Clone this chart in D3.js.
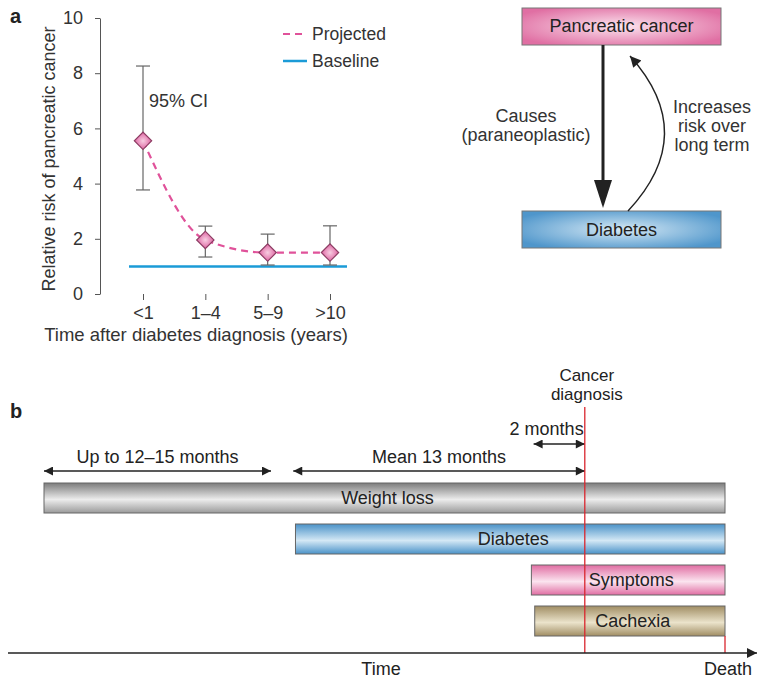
<!DOCTYPE html>
<html lang="en">
<head>
<meta charset="utf-8">
<title>Diabetes and pancreatic cancer</title>
<script type="text/javascript" src="https://cdnjs.cloudflare.com/ajax/libs/d3/7.8.5/d3.min.js"></script>
<style>
body { margin: 0; background: #fff; }
svg { display: block; font-family: "Liberation Sans", Arial, sans-serif; fill: #222; }
.axis text { font-size: 18px; fill: #333; }
.axis line, .axis path { stroke: #555; }
</style>
</head>
<body>
<div id="chart"></div>
<script type="text/javascript">

// panel a: relative risk by time since diabetes diagnosis
var categories = ["<1", "1\u20134", "5\u20139", ">10"];
var riskValues = [5.55, 1.96, 1.5, 1.5];
var ciLow = [3.77, 1.34, 1.05, 1.05];
var ciHigh = [8.26, 2.46, 2.17, 2.47];
var baselineRisk = 1;
var yTicks = [0, 2, 4, 6, 8, 10];

// panel b: timeline, months relative to cancer diagnosis
var barLabels = ["Weight loss", "Diabetes", "Symptoms", "Cachexia"];
var barStart = [-24.3, -13, -2.4, -2.25];
var barEnd = [6.3, 6.3, 6.3, 6.3];
var spanLabels = ["Up to 12\u201315 months", "Mean 13 months", "2 months"];
var spanStart = [-24.3, -13.1, -2.3];
var spanEnd = [-14.1, 0, 0];
var diagnosisMonth = 0;
var deathMonth = 6.3;

var width = 764, height = 683;

var svg = d3.select("#chart").append("svg")
    .attr("width", width)
    .attr("height", height);

var defs = svg.append("defs");

function arrowMarker(id, w, h) {
    defs.append("marker")
        .attr("id", id)
        .attr("viewBox", "0 0 10 10")
        .attr("refX", 10).attr("refY", 5)
        .attr("markerUnits", "userSpaceOnUse")
        .attr("markerWidth", w).attr("markerHeight", h)
        .attr("orient", "auto-start-reverse")
        .append("path")
            .attr("d", "M0,0L10,5L0,10z")
            .attr("fill", "#222");
}
arrowMarker("arrowSmall", 14, 9);
arrowMarker("arrowCurve", 16, 11);
arrowMarker("arrowAxis", 20, 10);

function vGradient(id, edge, mid, top) {
    var g = defs.append("linearGradient").attr("id", id)
        .attr("x1", 0).attr("y1", 0).attr("x2", 0).attr("y2", 1);
    g.append("stop").attr("offset", "0%").attr("stop-color", top || edge);
    g.append("stop").attr("offset", "55%").attr("stop-color", mid);
    g.append("stop").attr("offset", "100%").attr("stop-color", edge);
}
function rGradient(id, edge, mid, r) {
    var g = defs.append("radialGradient").attr("id", id)
        .attr("cx", "50%").attr("cy", "50%").attr("r", r || "60%");
    g.append("stop").attr("offset", "0%").attr("stop-color", mid);
    g.append("stop").attr("offset", "100%").attr("stop-color", edge);
}
vGradient("gWeight", "#9a9a9a", "#ececec", "#7c7c7c");
vGradient("gDiabetes", "#4a92c8", "#d4e8f5", "#4a92c8");
vGradient("gSymptoms", "#e06da2", "#fbe4ef", "#e06da2");
vGradient("gCachexia", "#a08d63", "#ebe3cb", "#a08d63");
rGradient("rPink", "#e06fa3", "#fbe3ee");
rGradient("rBlue", "#4f96cb", "#d6e9f5");
rGradient("rDiamond", "#e47cb0", "#f7cde1", "55%");
var barFills = ["url(#gWeight)", "url(#gDiabetes)", "url(#gSymptoms)", "url(#gCachexia)"];

// ---------- panel a: chart ----------
svg.append("text").attr("x", 10).attr("y", 23)
    .style("font-size", "20px").style("font-weight", "bold").text("a");

var x = d3.scalePoint().domain(categories).range([143, 330]);
var y = d3.scaleLinear().domain([0, 10]).range([294, 18]);

svg.append("g").attr("class", "axis")
    .attr("transform", "translate(100,0)")
    .call(d3.axisLeft(y).tickValues(yTicks).tickSize(5).tickSizeOuter(0).tickPadding(12));

var xAxis = svg.append("g").attr("class", "axis")
    .attr("transform", "translate(0,294)")
    .call(d3.axisBottom(x).tickSize(6).tickPadding(6));
xAxis.select(".domain").remove();

svg.append("text")
    .attr("transform", "translate(55,159) rotate(-90)")
    .attr("text-anchor", "middle")
    .style("font-size", "18px").style("fill", "#333")
    .text("Relative risk of pancreatic cancer");

svg.append("text")
    .attr("x", 196).attr("y", 341)
    .attr("text-anchor", "middle")
    .style("font-size", "18.5px").style("fill", "#333")
    .text("Time after diabetes diagnosis (years)");

// baseline
svg.append("line")
    .attr("x1", x(categories[0]) - 14).attr("x2", x(categories[3]) + 17)
    .attr("y1", y(baselineRisk)).attr("y2", y(baselineRisk))
    .attr("stroke", "#1b9bd7").attr("stroke-width", 2.5);

// error bars
var idx = d3.range(categories.length);
var eb = svg.append("g").attr("stroke", "#666").attr("stroke-width", 1.2);
eb.selectAll(".ci").data(idx).enter().append("line")
    .attr("x1", function(i) { return x(categories[i]); })
    .attr("x2", function(i) { return x(categories[i]); })
    .attr("y1", function(i) { return y(ciLow[i]); })
    .attr("y2", function(i) { return y(ciHigh[i]); });
[ciLow, ciHigh].forEach(function(arr) {
    eb.selectAll(null).data(idx).enter().append("line")
        .attr("x1", function(i) { return x(categories[i]) - 7; })
        .attr("x2", function(i) { return x(categories[i]) + 7; })
        .attr("y1", function(i) { return y(arr[i]); })
        .attr("y2", function(i) { return y(arr[i]); });
});

// projected curve
var line = d3.line()
    .x(function(i) { return x(categories[i]); })
    .y(function(i) { return y(riskValues[i]); })
    .curve(d3.curveMonotoneX);
svg.append("path")
    .attr("d", line(idx))
    .attr("fill", "none")
    .attr("stroke", "#e0529a").attr("stroke-width", 2.2)
    .attr("stroke-dasharray", "7,5");

svg.selectAll(".pt").data(idx).enter().append("path")
    .attr("class", "pt")
    .attr("d", d3.symbol(d3.symbolSquare, 150))
    .attr("transform", function(i) {
        return "translate(" + x(categories[i]) + "," + y(riskValues[i]) + ") rotate(45)";
    })
    .attr("fill", "url(#rDiamond)")
    .attr("stroke", "#8c3b62").attr("stroke-width", 1.2);

svg.append("text").attr("x", 149).attr("y", 107)
    .style("font-size", "18px").style("fill", "#333").text("95% CI");

// legend
var legend = svg.append("g");
legend.append("line").attr("x1", 283).attr("x2", 307).attr("y1", 34).attr("y2", 34)
    .attr("stroke", "#e0529a").attr("stroke-width", 2.2).attr("stroke-dasharray", "7,5");
legend.append("text").attr("x", 312).attr("y", 40)
    .style("font-size", "17.5px").style("fill", "#333").text("Projected");
legend.append("line").attr("x1", 283).attr("x2", 307).attr("y1", 61).attr("y2", 61)
    .attr("stroke", "#1b9bd7").attr("stroke-width", 2.5);
legend.append("text").attr("x", 312).attr("y", 67)
    .style("font-size", "17.5px").style("fill", "#333").text("Baseline");

// ---------- panel a: diagram ----------
var dg = svg.append("g");
dg.append("rect").attr("x", 522).attr("y", 8).attr("width", 199).attr("height", 37)
    .attr("fill", "url(#rPink)").attr("stroke", "#777").attr("stroke-width", 1);
dg.append("text").attr("x", 621.5).attr("y", 32).attr("text-anchor", "middle")
    .style("font-size", "18px").text("Pancreatic cancer");
dg.append("rect").attr("x", 522).attr("y", 211).attr("width", 199).attr("height", 37)
    .attr("fill", "url(#rBlue)").attr("stroke", "#777").attr("stroke-width", 1);
dg.append("text").attr("x", 621.5).attr("y", 236).attr("text-anchor", "middle")
    .style("font-size", "18px").text("Diabetes");

dg.append("line").attr("x1", 603).attr("x2", 603).attr("y1", 45).attr("y2", 182)
    .attr("stroke", "#222").attr("stroke-width", 3);
dg.append("path").attr("d", "M594,180L612,180L603,208z").attr("fill", "#222");

dg.append("path").attr("d", "M628,211Q700,134 630,56")
    .attr("fill", "none").attr("stroke", "#222").attr("stroke-width", 1.4)
    .attr("marker-end", "url(#arrowCurve)");

[["Causes", 122], ["(paraneoplastic)", 141]].forEach(function(d) {
    dg.append("text").attr("x", 526).attr("y", d[1]).attr("text-anchor", "middle")
        .style("font-size", "18px").style("fill", "#333").text(d[0]);
});
[["Increases", 113], ["risk over", 132], ["long term", 151]].forEach(function(d) {
    dg.append("text").attr("x", 712).attr("y", d[1]).attr("text-anchor", "middle")
        .style("font-size", "18px").style("fill", "#333").text(d[0]);
});

// ---------- panel b: timeline ----------
svg.append("text").attr("x", 10).attr("y", 418)
    .style("font-size", "20px").style("font-weight", "bold").text("b");

var t = d3.scaleLinear().domain([-24.3, deathMonth]).range([44, 725]);
var row = d3.scalePoint().domain(barLabels).range([483, 606]);
var barH = 30;
var axisY = 653;

var bars = svg.append("g");
bars.selectAll("rect").data(d3.range(barLabels.length)).enter().append("rect")
    .attr("x", function(i) { return t(barStart[i]); })
    .attr("y", function(i) { return row(barLabels[i]); })
    .attr("width", function(i) { return t(barEnd[i]) - t(barStart[i]); })
    .attr("height", barH)
    .attr("fill", function(i) { return barFills[i]; })
    .attr("stroke", "#666").attr("stroke-width", 1);
bars.selectAll("text").data(d3.range(barLabels.length)).enter().append("text")
    .attr("x", function(i) { return (t(barStart[i]) + t(barEnd[i])) / 2 + 3; })
    .attr("y", function(i) { return row(barLabels[i]) + 21; })
    .attr("text-anchor", "middle")
    .style("font-size", "18px").style("fill", "#222")
    .text(function(i) { return barLabels[i]; });

// span arrows
var spanRowY = [471, 471, 444];
var spans = svg.append("g");
spans.selectAll("line").data(d3.range(spanLabels.length)).enter().append("line")
    .attr("x1", function(i) { return t(spanStart[i]); })
    .attr("x2", function(i) { return t(spanEnd[i]); })
    .attr("y1", function(i) { return spanRowY[i]; })
    .attr("y2", function(i) { return spanRowY[i]; })
    .attr("stroke", "#222").attr("stroke-width", 1.5)
    .attr("marker-start", "url(#arrowSmall)")
    .attr("marker-end", "url(#arrowSmall)");
spans.selectAll("text").data(d3.range(spanLabels.length)).enter().append("text")
    .attr("x", function(i) { return i === 2 ? t(spanStart[i]) - 24 : (t(spanStart[i]) + t(spanEnd[i])) / 2; })
    .attr("y", function(i) { return spanRowY[i] - 8 - (i === 2 ? 1 : 0); })
    .attr("text-anchor", function(i) { return i === 2 ? "start" : "middle"; })
    .style("font-size", "18px").style("fill", "#222")
    .text(function(i) { return spanLabels[i]; });

// diagnosis and death lines
svg.append("line")
    .attr("x1", t(diagnosisMonth)).attr("x2", t(diagnosisMonth))
    .attr("y1", 407).attr("y2", axisY)
    .attr("stroke", "#d9262e").attr("stroke-width", 1.3);
svg.append("line")
    .attr("x1", t(deathMonth)).attr("x2", t(deathMonth))
    .attr("y1", row(barLabels[3]) + barH).attr("y2", axisY)
    .attr("stroke", "#d9262e").attr("stroke-width", 1.3);
[["Cancer", 381], ["diagnosis", 400]].forEach(function(d) {
    svg.append("text").attr("x", t(diagnosisMonth) + 2).attr("y", d[1])
        .attr("text-anchor", "middle")
        .style("font-size", "17px").style("fill", "#222").text(d[0]);
});

// time axis
svg.append("line").attr("x1", 8).attr("x2", 757).attr("y1", axisY).attr("y2", axisY)
    .attr("stroke", "#222").attr("stroke-width", 1.5)
    .attr("marker-end", "url(#arrowAxis)");
svg.append("text").attr("x", 381).attr("y", 675).attr("text-anchor", "middle")
    .style("font-size", "18px").style("fill", "#222").text("Time");
svg.append("text").attr("x", t(deathMonth) + 3).attr("y", 675).attr("text-anchor", "middle")
    .style("font-size", "18px").style("fill", "#222").text("Death");

</script>
</body>
</html>
